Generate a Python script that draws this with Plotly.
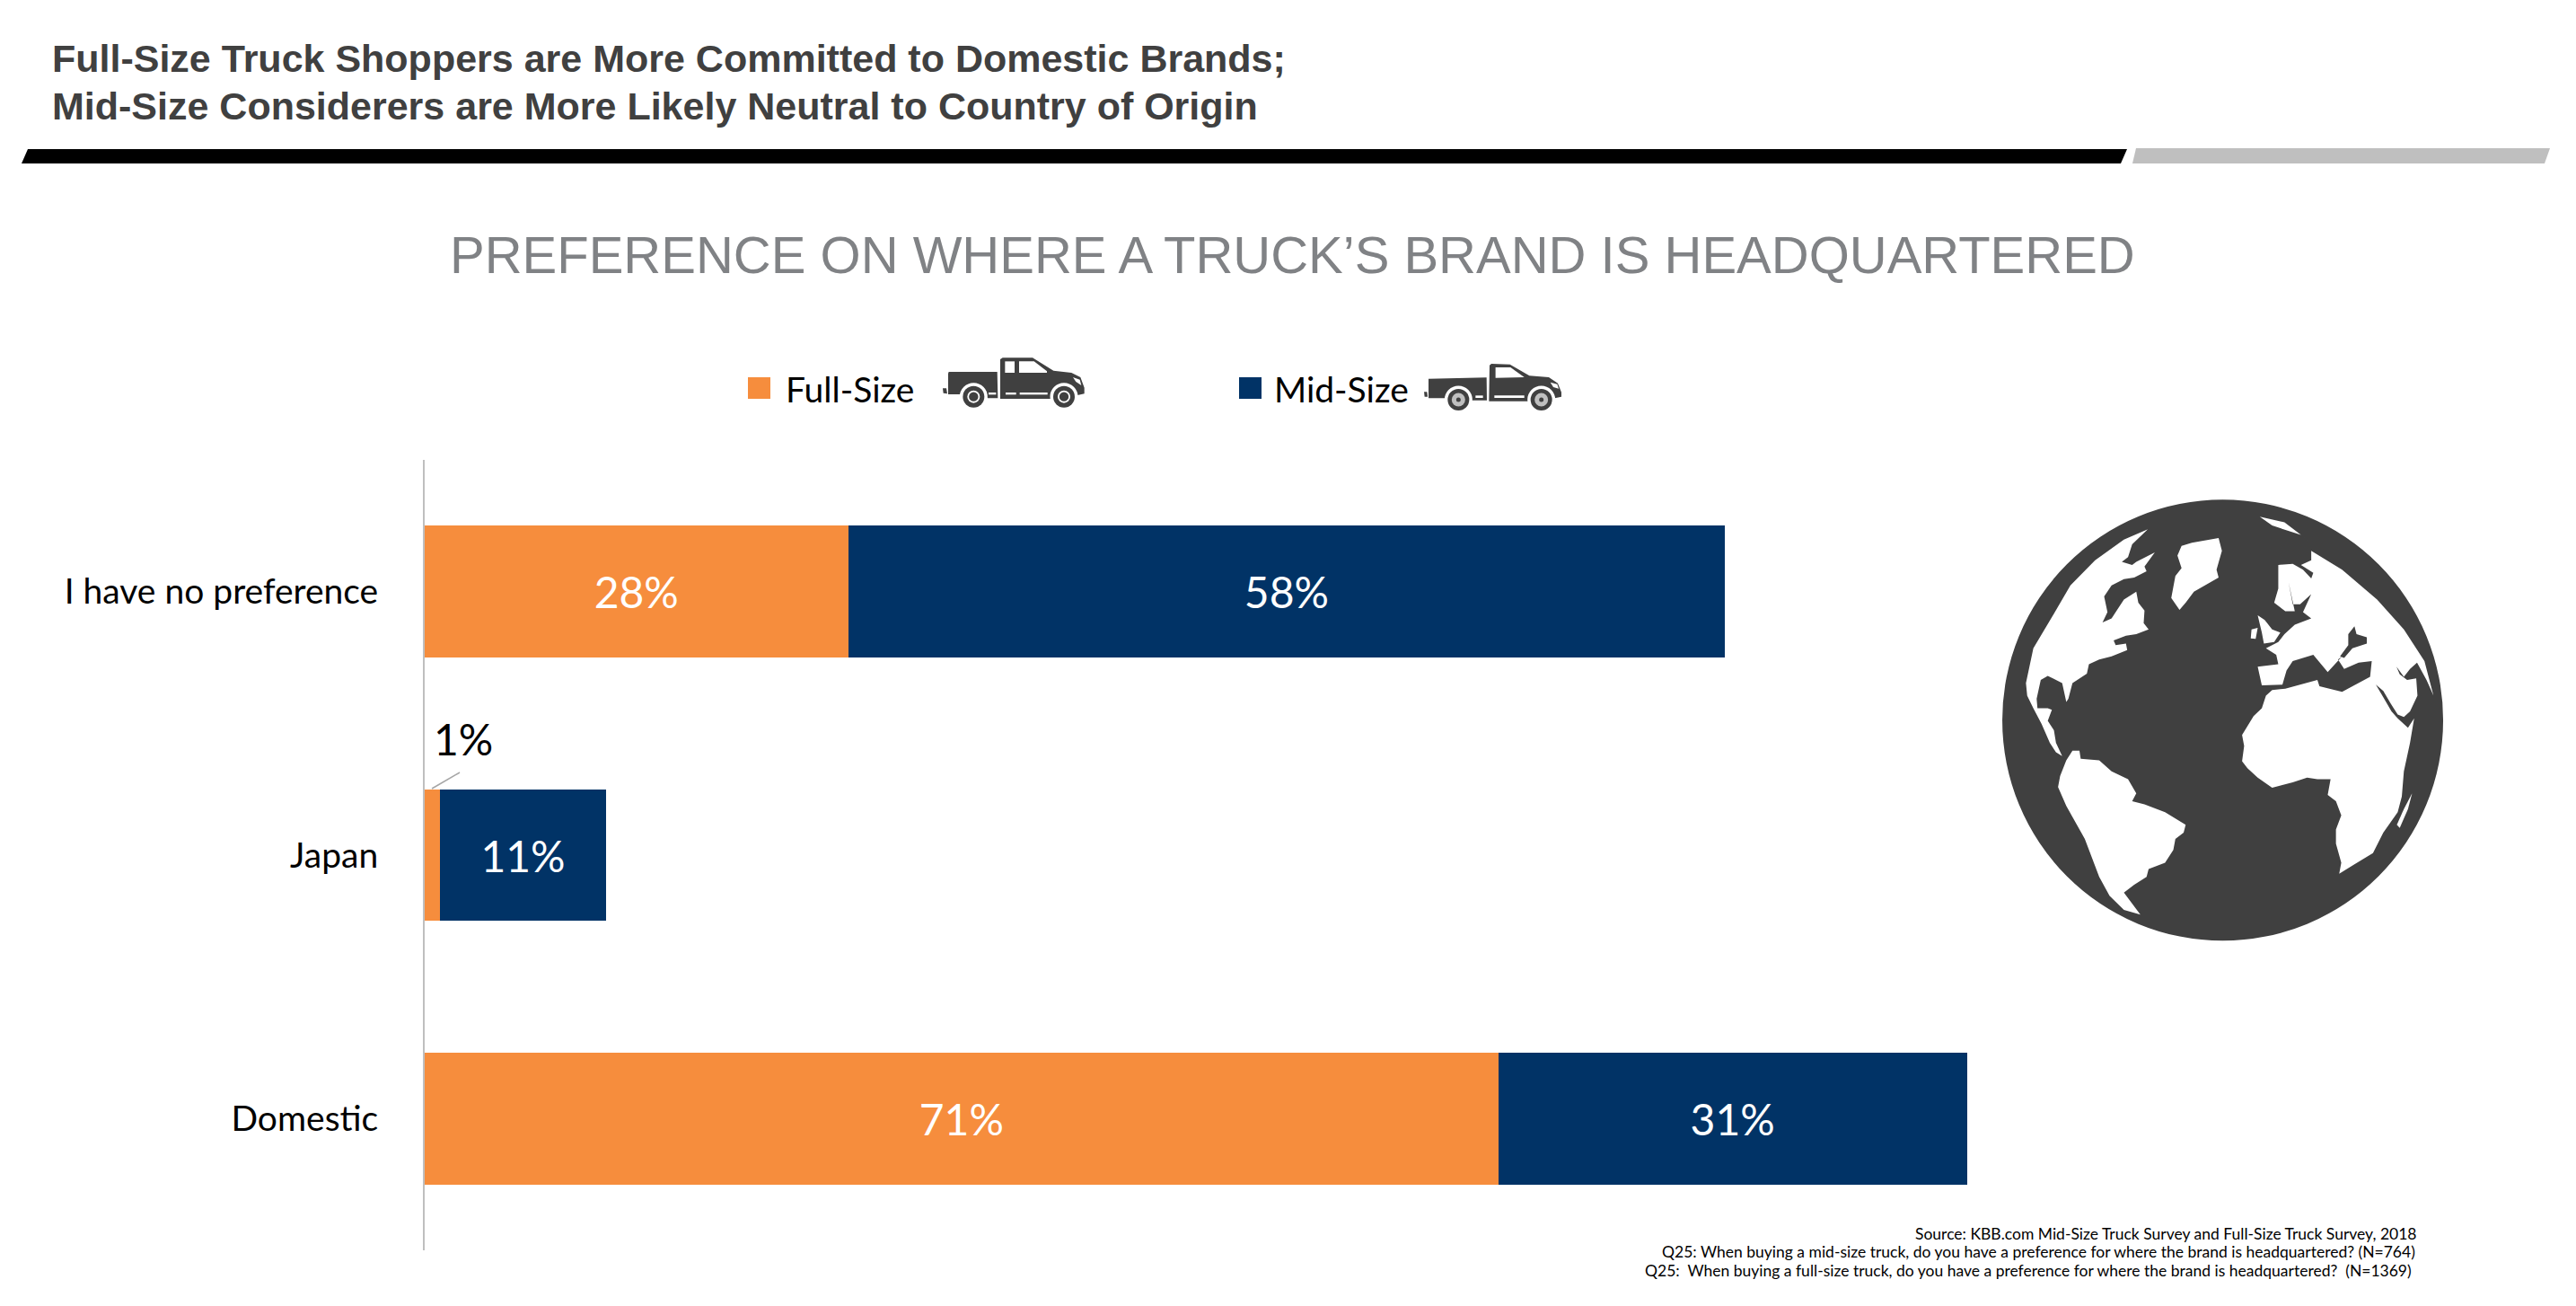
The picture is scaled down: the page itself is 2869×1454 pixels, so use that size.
import plotly.graph_objects as go

# ---- data ----
categories = ["I have no preference", "Japan", "Domestic"]
full_size = [28, 1, 71]
mid_size = [58, 11, 31]
series_names = ["Full-Size", "Mid-Size"]
title_lines = ["Full-Size Truck Shoppers are More Committed to Domestic Brands;",
               "Mid-Size Considerers are More Likely Neutral to Country of Origin"]
subtitle = "PREFERENCE ON WHERE A TRUCK\u2019S BRAND IS HEADQUARTERED"
notes = ["Source: KBB.com Mid-Size Truck Survey and Full-Size Truck Survey, 2018",
         "Q25: When buying a mid-size truck, do you have a preference for where the brand is headquartered? (N=764)",
         "Q25:  When buying a full-size truck, do you have a preference for where the brand is headquartered?  (N=1369)"]

W, H = 2869, 1454
ORANGE, NAVY, DARK, GREY = "#F68D3D", "#013366", "#404040", "#BFBFBF"
BODY = "Lato"

def px(x): return x / W
def py(y): return 1 - y / H

shapes, annots = [], []

def poly(points, fill, conv=lambda p: p):
    d = "M " + " L ".join(f"{px(conv(p)[0]):.5f} {py(conv(p)[1]):.5f}" for p in points) + " Z"
    shapes.append(dict(type="path", path=d, xref="paper", yref="paper", fillcolor=fill,
                       line=dict(width=0), layer="above"))

def circle(cx, cy, r, fill, ry=None):
    ry = r if ry is None else ry
    shapes.append(dict(type="circle", xref="paper", yref="paper", x0=px(cx - r), x1=px(cx + r),
                       y0=py(cy + ry), y1=py(cy - ry), fillcolor=fill, line=dict(width=0), layer="above"))

def text(s, x, y, size, color, xanchor="left", family=BODY, bold=False):
    annots.append(dict(text=f"<b>{s}</b>" if bold else s, x=px(x), y=py(y), xref="paper", yref="paper",
                       xanchor=xanchor, yanchor="middle", showarrow=False,
                       font=dict(size=size, color=color, family=family)))

# header rule
poly([(31, 166), (2369, 166), (2362, 182), (24, 182)], "#000000")
poly([(2379, 165), (2840, 165), (2834, 182), (2375, 182)], GREY)

# texts
text(title_lines[0], 56, 65, 43, DARK, family="Liberation Sans", bold=True)
text(title_lines[1], 56, 118, 43, DARK, family="Liberation Sans", bold=True)
text(subtitle, 1439, 283, 58, "#808285", xanchor="center", family="Liberation Sans")
for i, n in enumerate(notes):
    text(n, 2712 - [18, 20, 24][i], 1373 + 20.5 * i, 17.5, "#000000", xanchor="right")

# legend
def square(x0, x1, fill):
    poly([(x0, 420), (x1, 420), (x1, 444), (x0, 444)], fill)
square(833, 858, ORANGE)
text(series_names[0], 873, 433, 39, "#000000")
square(1380, 1405, NAVY)
text(series_names[1], 1417, 433, 39, "#000000")

# extended-cab truck
def t1(p): return (1040 + p[0] / 3, 390 + p[1] / 3)
poly([(30, 127), (42, 127), (45, 145), (32, 143)], DARK, t1)
poly([(48, 78), (50, 72), (212, 72), (214, 160), (180, 160), (170, 147), (48, 147)], DARK, t1)
poly([(222, 30), (230, 25), (330, 25), (400, 68), (460, 75), (490, 90), (503, 125), (503, 145),
      (480, 150), (470, 162), (222, 162)], DARK, t1)
poly([(238, 37), (270, 37), (270, 75), (238, 75)], "#FFFFFF", t1)
poly([(285, 37), (335, 37), (378, 70), (378, 75), (285, 75)], "#FFFFFF", t1)
poly([(240, 141), (275, 141), (275, 148), (240, 148)], "#FFFFFF", t1)
poly([(287, 141), (380, 141), (380, 148), (287, 148)], "#FFFFFF", t1)
poly([(183, 141), (208, 141), (208, 148), (183, 148)], "#FFFFFF", t1)
poly([(465, 90), (488, 98), (493, 117), (475, 105)], "#FFFFFF", t1)
for cx in (133, 435):
    c = t1((cx, 155))
    circle(*c, 15.5, "#FFFFFF")
    circle(*c, 12, DARK)
    circle(*c, 7, "#FFFFFF")
    circle(*c, 5.2, DARK)

# single-cab truck
def t2(p): return (1575 + p[0] / 3, 395 + p[1] / 3)
poly([(33, 124), (43, 124), (45, 140), (35, 140)], DARK, t2)
poly([(48, 80), (242, 76), (243, 152), (190, 152), (170, 145), (48, 145)], DARK, t2)
poly([(252, 35), (258, 30), (320, 32), (385, 70), (450, 75), (480, 95), (492, 125), (492, 140),
      (470, 145), (470, 155), (250, 155)], DARK, t2)
poly([(272, 42), (322, 42), (368, 75), (272, 77)], "#FFFFFF", t2)
poly([(268, 136), (368, 136), (368, 144), (268, 144)], "#FFFFFF", t2)
poly([(205, 136), (230, 136), (230, 144), (205, 144)], "#FFFFFF", t2)
poly([(455, 92), (478, 98), (483, 113), (465, 108)], "#FFFFFF", t2)
for cx in (148, 425):
    c = t2((cx, 150))
    circle(*c, 15.5, "#FFFFFF")
    circle(*c, 12, DARK)
    circle(*c, 7.5, "#BFBFBF")
    circle(*c, 2.5, DARK)

# globe
def g(p): return (2150 + p[0] / 2.181, 550 + p[1] / 2.851)
gc = g((710, 718))
circle(gc[0], gc[1], 245.5, DARK, ry=245.5)
LAND = "#FFFFFF"
north_america = [(528, 112), (490, 160), (480, 200), (465, 215), (490, 225), (500, 215), (545, 185), (520, 230),
                 (525, 245), (495, 265), (470, 270), (440, 290), (422, 325), (430, 375), (418, 408), (440, 395),
                 (470, 335), (500, 310), (505, 345), (520, 370), (518, 410), (530, 430), (500, 445), (475, 450),
                 (445, 465), (450, 480), (475, 475), (478, 495), (440, 515), (410, 525), (385, 540), (380, 570),
                 (345, 600), (335, 650), (330, 660), (320, 600), (305, 590), (285, 577), (268, 590), (258, 650),
                 (260, 680), (285, 680), (295, 685), (285, 720), (300, 750), (305, 790), (320, 832), (305, 820),
                 (290, 790), (270, 730), (250, 680), (235, 640), (232, 600), (250, 490), (300, 380), (340, 290),
                 (400, 210), (470, 145)]
greenland = [(635, 155), (700, 140), (708, 180), (695, 240), (700, 265), (640, 310), (620, 345), (605, 368),
             (585, 330), (595, 260), (610, 235), (600, 195), (610, 165)]
old_world = [(925, 180), (1000, 240), (1085, 335), (1150, 430), (1200, 530), (1222, 640), (1205, 590), (1182, 535),
             (1165, 555), (1150, 580), (1132, 548), (1140, 572), (1158, 590), (1180, 585), (1183, 640), (1165, 690),
             (1150, 708), (1135, 700), (1118, 665), (1100, 625), (1082, 605), (1100, 645), (1120, 690), (1135, 712),
             (1160, 742), (1175, 712), (1165, 790), (1150, 880), (1145, 960), (1135, 1010), (1100, 1075), (1075, 1140),
             (1030, 1175), (993, 1205), (998, 1170), (985, 1110), (985, 1065), (998, 1020), (985, 975), (965, 955),
             (972, 905), (940, 905), (915, 900), (880, 915), (830, 932), (795, 900), (770, 870), (757, 848),
             (762, 800), (757, 765), (785, 705), (805, 680), (815, 640), (830, 622), (862, 618), (940, 590),
             (945, 610), (1000, 628), (1068, 580), (1072, 530), (1040, 535), (1005, 555), (990, 525), (1000, 515),
             (965, 565), (930, 510), (905, 520), (880, 530), (865, 560), (855, 605), (805, 607), (795, 548),
             (845, 540), (840, 510), (815, 490), (845, 470), (860, 445), (885, 415), (925, 395), (905, 375),
             (925, 318), (898, 350), (880, 350), (870, 280), (885, 372), (862, 372), (835, 345), (845, 300),
             (845, 225), (880, 222), (905, 240), (925, 268), (930, 250), (900, 225), (925, 210)]
south_america = [(345, 815), (362, 815), (365, 840), (410, 845), (440, 880), (480, 905), (500, 950), (490, 975),
                 (520, 985), (570, 1010), (620, 1050), (615, 1075), (595, 1095), (590, 1130), (570, 1170), (530, 1190),
                 (525, 1215), (495, 1240), (470, 1265), (490, 1300), (510, 1335), (470, 1320), (435, 1275), (410, 1215),
                 (375, 1095), (330, 990), (310, 930), (315, 895), (330, 845)]
madagascar = [(1170, 950), (1160, 1000), (1140, 1060), (1133, 1050), (1150, 1000)]
britain = [(795, 385), (812, 400), (830, 430), (850, 440), (835, 470), (810, 475), (805, 440)]
ireland = [(780, 430), (795, 425), (790, 460), (778, 458)]
for shape in (north_america, greenland, old_world, south_america, madagascar, britain, ireland):
    poly(shape, LAND, g)
poly([(1030, 420), (1035, 445), (1060, 455), (1060, 475), (1025, 490), (1005, 520), (995, 515), (1015, 480),
      (1015, 445)], DARK, g)
poly([(800, 72), (860, 90), (920, 150), (900, 130), (830, 100)], LAND, g)

# value call-out for the small segment
text(f"{full_size[1]}%", 481, 823, 48, "#000000")
shapes.append(dict(type="line", xref="paper", yref="paper", x0=px(481), y0=py(878), x1=px(512), y1=py(860),
                   line=dict(color="#A6A6A6", width=1.5), layer="above"))

fig = go.Figure()
fig.add_trace(go.Bar(name=series_names[0], y=categories, x=full_size, orientation="h", marker_color=ORANGE,
                     text=[f"{v}%" if v > 1 else "" for v in full_size]))
fig.add_trace(go.Bar(name=series_names[1], y=categories, x=mid_size, orientation="h", marker_color=NAVY,
                     text=[f"{v}%" for v in mid_size]))
fig.update_traces(textposition="inside", insidetextanchor="middle", textangle=0,
                  insidetextfont=dict(color="#FFFFFF", size=48, family=BODY), marker_line_width=0)
fig.update_layout(
    width=W, height=H, autosize=False, margin=dict(l=0, r=0, t=0, b=0),
    paper_bgcolor="#FFFFFF", plot_bgcolor="#FFFFFF", barmode="stack", bargap=0.5, showlegend=False,
    shapes=shapes, annotations=annots,
    xaxis=dict(domain=[px(473), px(473 + 16.84 * 130)], range=[0, 130], visible=False, fixedrange=True),
    yaxis=dict(domain=[py(1392), py(512)], autorange="reversed", type="category", categoryorder="array",
               categoryarray=categories, showline=True, linecolor=GREY, linewidth=2, showgrid=False,
               ticks="outside", ticklen=42, tickcolor="rgba(0,0,0,0)", tickwidth=1,
               tickfont=dict(size=39, color="#000000", family=BODY), fixedrange=True),
)
fig.write_html("out.html", config=dict(displayModeBar=False),
               post_script="document.body.style.margin='0';document.body.style.overflow='hidden';")
